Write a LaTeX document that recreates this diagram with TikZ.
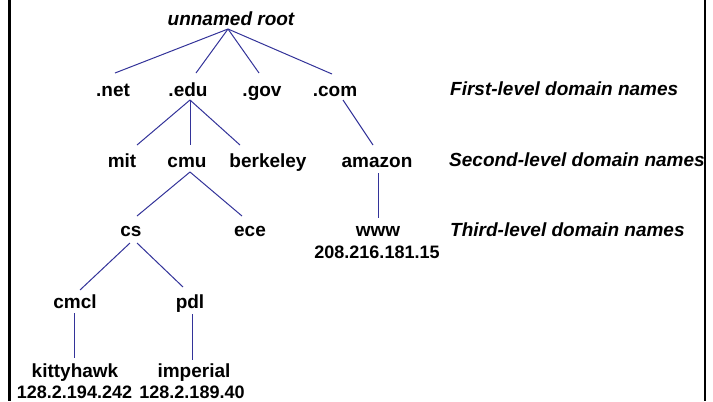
\documentclass[tikz,border=0pt]{standalone}
\usepackage{fontspec}
\setmainfont{Liberation Sans}
\begin{document}
\begin{tikzpicture}[x=1bp,y=-1bp,
  lbl/.style={inner sep=0pt,anchor=base,font=\fontsize{19bp}{22bp}\selectfont\bfseries},
  ip/.style={inner sep=0pt,anchor=base,font=\fontsize{18bp}{22bp}\selectfont\bfseries},
  lvl/.style={inner sep=0pt,anchor=base west,font=\fontsize{19bp}{22bp}\selectfont\bfseries\itshape},
  edge/.style={draw=linecol,line width=1bp},
  frame/.style={draw=black,line width=2.5bp}]
\definecolor{linecol}{RGB}{51,51,153}
\useasboundingbox (0,0) rectangle (713,401);
\coordinate (ft) at (9.5,0); \coordinate (fb) at (9.5,401);
\coordinate (gt) at (705,0); \coordinate (gb) at (705,401);
\draw[frame] (ft) -- (fb);
\draw[frame] (gt) -- (gb);
% nodes
\node[lbl,font=\fontsize{19bp}{22bp}\selectfont\bfseries\itshape] (root) at (231,25) {unnamed root};
\node[lbl] (net) at (113,96) {.net};
\node[lbl] (edu) at (188,96) {.edu};
\node[lbl] (gov) at (262,96) {.gov};
\node[lbl] (com) at (335,96) {.com};
\node[lbl] (mit) at (122,167) {mit};
\node[lbl] (cmu) at (187,167) {cmu};
\node[lbl] (berkeley) at (268,167) {berkeley};
\node[lbl] (amazon) at (377,167) {amazon};
\node[lbl] (cs) at (131,236) {cs};
\node[lbl] (ece) at (250,236) {ece};
\node[lbl] (www) at (378,236) {www};
\node[ip] (wwwip) at (377,258) {208.216.181.15};
\node[lbl] (cmcl) at (75,308) {cmcl};
\node[lbl] (pdl) at (190,308) {pdl};
\node[lbl] (kittyhawk) at (75,377) {kittyhawk};
\node[ip] (kip) at (74.5,398) {128.2.194.242};
\node[lbl] (imperial) at (194,377) {imperial};
\node[ip] (iip) at (192,398) {128.2.189.40};
\node[lvl] (first) at (450,95) {First-level domain names};
\node[lvl] (second) at (449,166) {Second-level domain names};
\node[lvl] (third) at (450,236) {Third-level domain names};
% connectors
\draw[edge] ([shift={(-3,4)}]root.base) -- ([shift={(2,-23)}]net.base);
\draw[edge] ([shift={(-3,4)}]root.base) -- ([shift={(8,-23)}]edu.base);
\draw[edge] ([shift={(-3,4)}]root.base) -- ([shift={(-3,-23)}]gov.base);
\draw[edge] ([shift={(-3,4)}]root.base) -- ([shift={(-3,-22)}]com.base);
\draw[edge] ([shift={(2,4)}]edu.base) -- ([shift={(15,-22)}]mit.base);
\draw[edge] ([shift={(2,4)}]edu.base) -- ([shift={(3,-22)}]cmu.base);
\draw[edge] ([shift={(2,4)}]edu.base) -- ([shift={(-28,-22)}]berkeley.base);
\draw[edge] ([shift={(8,4)}]com.base) -- ([shift={(-4,-22)}]amazon.base);
\draw[edge] ([shift={(1,6)}]amazon.base) -- ([shift={(0,-18)}]www.base);
\draw[edge] ([shift={(3,5)}]cmu.base) -- ([shift={(6,-20)}]cs.base);
\draw[edge] ([shift={(3,5)}]cmu.base) -- ([shift={(-8,-20)}]ece.base);
\draw[edge] ([shift={(-1,7)}]cs.base) -- ([shift={(5,-18)}]cmcl.base);
\draw[edge] ([shift={(6,7)}]cs.base) -- ([shift={(-7,-21)}]pdl.base);
\draw[edge] ([shift={(-1,5)}]cmcl.base) -- ([shift={(-1,-19)}]kittyhawk.base);
\draw[edge] ([shift={(2,6)}]pdl.base) -- ([shift={(-2,-17)}]imperial.base);
\end{tikzpicture}
\end{document}
